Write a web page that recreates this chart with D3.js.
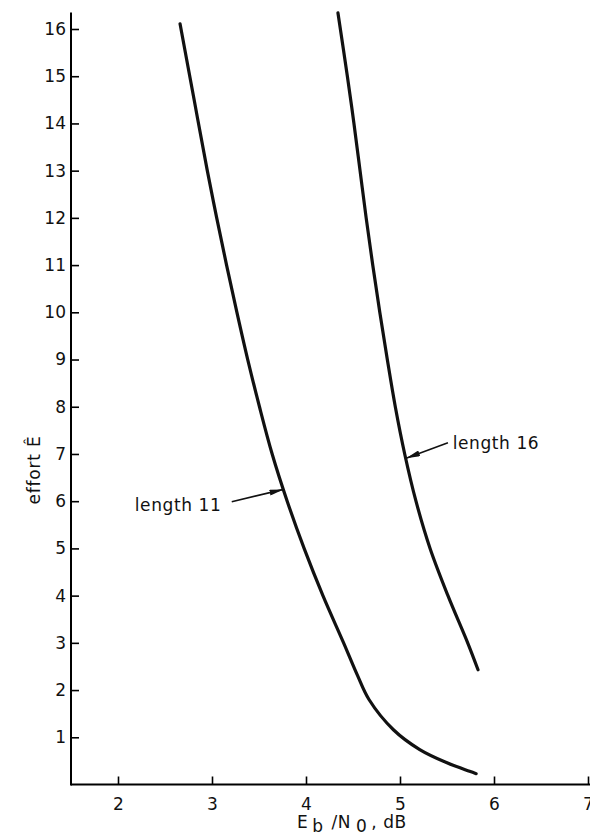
<!DOCTYPE html>
<html>
<head>
<meta charset="utf-8">
<script src="https://cdn.jsdelivr.net/npm/d3@7"></script>
<style>
  body { margin: 0; background: #fff; }
  text { font-family: "DejaVu Sans", sans-serif; fill: #111; }
</style>
</head>
<body>
<div id="chart"></div>
<script>
// curve for code length 11
let len11Eb = [2.66, 2.81, 2.95, 3.05, 3.155, 3.265, 3.38, 3.505, 3.64, 3.80, 3.98, 4.18, 4.40, 4.55, 4.67, 4.93, 5.21, 5.50, 5.74, 5.81];
let len11E  = [16.11, 14.5, 13.0, 12.0, 11.0, 10.0, 9.0, 8.0, 7.0, 6.0, 5.0, 4.0, 3.0, 2.3, 1.8, 1.16, 0.74, 0.46, 0.28, 0.23];
// curve for code length 16
let len16Eb = [4.34, 4.44, 4.51, 4.575, 4.64, 4.71, 4.785, 4.865, 4.95, 5.05, 5.17, 5.32, 5.51, 5.72, 5.83];
let len16E  = [16.34, 15.0, 14.0, 13.0, 12.0, 11.0, 10.0, 9.0, 8.0, 7.0, 6.0, 5.0, 4.0, 3.0, 2.43];

let xTicks = [2, 3, 4, 5, 6, 7];
let yTicks = [1, 2, 3, 4, 5, 6, 7, 8, 9, 10, 11, 12, 13, 14, 15, 16];

// labels: text, text anchor point, arrow start, arrow tip (data units)
let labelText   = ["length 11", "length 16"];
let labelAt     = [[3.10, 5.80], [5.56, 7.10]];
let labelAnchor = ["end", "start"];
let arrowFrom   = [[3.21, 5.99], [5.51, 7.24]];
let arrowTo     = [[3.76, 6.25], [5.065, 6.91]];

var width = 590, height = 836;

var xScale = d3.scaleLinear().domain([1.5, 7]).range([71, 588]);
var yScale = d3.scaleLinear().domain([0, 16]).range([784.5, 29]);

var svg = d3.select("#chart").append("svg")
    .attr("width", width)
    .attr("height", height);

var defs = svg.append("defs");
defs.append("marker")
    .attr("id", "head")
    .attr("viewBox", "0 0 14 6")
    .attr("refX", 14).attr("refY", 3)
    .attr("markerWidth", 14).attr("markerHeight", 6)
    .attr("markerUnits", "userSpaceOnUse")
    .attr("orient", "auto")
  .append("path")
    .attr("d", "M0,0 L14,3 L0,6 Z")
    .attr("fill", "#111");

// x axis, ticks pointing up
var xAxis = svg.append("g")
    .attr("transform", "translate(0," + yScale(0) + ")")
    .call(d3.axisBottom(xScale).tickValues(xTicks).tickFormat(d3.format("d"))
        .tickSizeInner(-8).tickSizeOuter(0).tickPadding(13));
xAxis.select(".domain").attr("stroke-width", 2).attr("d", "M71,0H590");
xAxis.selectAll(".tick line").attr("stroke-width", 1.6);
xAxis.selectAll(".tick text").style("font-size", "17px").attr("fill", "#111");

// y axis, ticks pointing right
var yAxis = svg.append("g")
    .attr("transform", "translate(" + xScale(1.5) + ",0)")
    .call(d3.axisLeft(yScale).tickValues(yTicks).tickFormat(d3.format("d"))
        .tickSizeInner(-8).tickSizeOuter(0).tickPadding(4));
yAxis.select(".domain").attr("stroke-width", 2).attr("d", "M0,12.5V785.5");
yAxis.selectAll(".tick line").attr("stroke-width", 1.6);
yAxis.selectAll(".tick text").style("font-size", "17px").attr("fill", "#111").attr("dx", "-1");

var line = d3.line()
    .x(function(d) { return xScale(d[0]); })
    .y(function(d) { return yScale(d[1]); })
    .curve(d3.curveCatmullRom.alpha(0.5));

var series = [d3.zip(len11Eb, len11E), d3.zip(len16Eb, len16E)];

svg.selectAll(".curve")
    .data(series)
    .enter().append("path")
    .attr("class", "curve")
    .attr("d", line)
    .attr("fill", "none")
    .attr("stroke", "#111")
    .attr("stroke-width", 3.2)
    .attr("stroke-linecap", "round");

// annotations
svg.selectAll(".lbl")
    .data(labelText)
    .enter().append("text")
    .attr("class", "lbl")
    .attr("x", function(d, i) { return xScale(labelAt[i][0]); })
    .attr("y", function(d, i) { return yScale(labelAt[i][1]); })
    .attr("text-anchor", function(d, i) { return labelAnchor[i]; })
    .style("font-size", "17px")
    .style("letter-spacing", "0.6px")
    .text(function(d) { return d; });

svg.selectAll(".arrow")
    .data(arrowFrom)
    .enter().append("line")
    .attr("class", "arrow")
    .attr("x1", function(d) { return xScale(d[0]); })
    .attr("y1", function(d) { return yScale(d[1]); })
    .attr("x2", function(d, i) { return xScale(arrowTo[i][0]); })
    .attr("y2", function(d, i) { return yScale(arrowTo[i][1]); })
    .attr("stroke", "#111")
    .attr("stroke-width", 1.6)
    .attr("marker-end", "url(#head)");

// axis titles
var xt = svg.append("text")
    .attr("x", 297).attr("y", 828)
    .style("font-size", "17px")
    .style("letter-spacing", "0.5px");
xt.append("tspan").text("E");
xt.append("tspan").attr("dx", 4).attr("dy", 4).text("b");
xt.append("tspan").attr("dx", 8).attr("dy", -4).text("/N");
xt.append("tspan").attr("dx", 5).attr("dy", 4).text("0");
xt.append("tspan").attr("dx", 4).attr("dy", -4).text(",");
xt.append("tspan").attr("dx", 6).text("dB");

svg.append("text")
    .attr("transform", "translate(40,470) rotate(-90)")
    .attr("text-anchor", "middle")
    .style("font-size", "17px")
    .style("letter-spacing", "0.8px")
    .text("effort  \u00CA");
</script>
</body>
</html>
